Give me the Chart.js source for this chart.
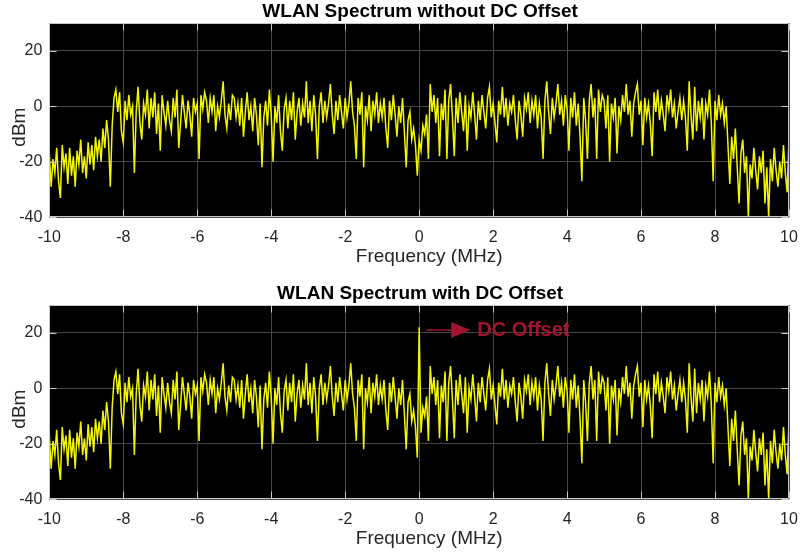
<!DOCTYPE html>
<html><head><meta charset="utf-8">
<script src="https://cdn.jsdelivr.net/npm/chart.js@4.4.1/dist/chart.umd.min.js"></script>
<style>
html,body{margin:0;padding:0;background:#fff;width:800px;height:554px;overflow:hidden;}
.wrap{position:absolute;left:0;width:800px;}
canvas{display:block;}
</style></head><body>
<div class="wrap" style="top:0"><canvas id="c1" width="800" height="270"></canvas></div>
<div class="wrap" style="top:282px"><canvas id="c2" width="800" height="270"></canvas></div>
<script>
// ---- data ----
const freqStartMHz = -10;
const freqStepMHz = 0.05;
// spectrum level (dBm), one value per 0.05 MHz bin from -10 to +10 MHz
const spectrumNoOffsetDbm = [
 -17,-29,-19,-24,-15,-27,-33,-14,-22,-17,-28,-15,-25,-18,-29,-16,-21,-12,-24,-18,
 -26,-13,-21,-14,-23,-11,-18,-12,-20,-8,-15,-5,-12,-29,-7,3,6,-2,5,-9,
 -13,2,-5,4,-3,0,-24,-2,7,-6,-12,1,-3,6,-8,3,-4,5,-10,1,
 -16,4,-2,-7,2,-5,-9,3,-4,6,-15,-6,4,-2,-8,2,-3,-11,3,-2,
 1,-19,4,-1,5,2,-6,3,-2,4,-9,0,-4,2,9,-3,-8,1,-5,4,
 3,-4,1,-7,3,-11,-2,5,-5,0,-9,3,-3,-14,1,-22,-4,2,-7,6,
 -3,-20,0,-6,4,-9,-16,-1,3,-8,2,-5,5,-12,-2,3,-7,1,-4,9,
 -6,2,-9,4,-3,-19,0,5,-6,2,-4,1,8,-3,-10,2,-5,4,-2,-8,
 3,-4,1,9,-2,-7,-19,3,-3,5,-22,0,-5,4,-9,2,-3,5,-6,1,
 -4,3,-8,-15,2,-5,4,-3,-11,0,-6,3,-9,-22,-5,-2,-12,-8,-14,-25,
 -12,-16,-7,-10,-3,-19,8,-2,4,-6,3,-18,1,-5,6,-19,2,8,-4,-18,
 3,-6,5,-2,-9,4,-16,0,-4,5,-3,-12,2,-5,4,-2,-8,3,7,-4,
 1,-6,-13,2,-3,7,-4,3,-7,1,-2,4,-5,-12,2,-3,-11,3,-1,5,
 -6,2,-3,4,-8,1,-4,-19,2,9,-2,-10,3,-4,1,8,-3,2,-7,4,
 -1,-16,3,-4,5,-7,1,-11,-27,3,-5,-19,2,8,-4,3,-19,6,-2,4,
 2,-8,4,-20,1,-4,3,-17,0,-5,4,-2,8,-3,2,-11,1,5,8,-3,
 2,-14,3,-4,1,-6,-18,5,-2,6,-5,2,-3,-9,4,-1,6,-4,1,-8,
 -2,3,-5,2,-4,-16,9,-3,-12,7,-9,2,-4,3,-12,1,-3,6,-6,-27,
 2,-5,4,-3,1,-6,0,-14,-28,-11,-19,-8,-22,-35,-17,-12,-24,-18,-40,-21,
 -26,-15,-23,-30,-18,-24,-16,-35,-22,-40,-19,-27,-15,-23,-29,-20,-26,-14,-24,-31,
 -12
];
// the DC bin in the second spectrum
const dcOffsetFreqMHz = 0;
const dcOffsetLevelDbm = 22;

const xTickValues = [-10,-8,-6,-4,-2,0,2,4,6,8,10];
const yTickValues = [-40,-20,0,20];
const chartTitles = ['WLAN Spectrum without DC Offset','WLAN Spectrum with DC Offset'];
const xAxisLabel = 'Frequency (MHz)';
const yAxisLabel = 'dBm';
const annotationText = 'DC Offset';

// ---- build series ----
const freqMHz = spectrumNoOffsetDbm.map((_, i) => Math.round((freqStartMHz + i * freqStepMHz) * 100) / 100);
const spectrumWithOffsetDbm = spectrumNoOffsetDbm.slice();
spectrumWithOffsetDbm[freqMHz.indexOf(dcOffsetFreqMHz)] = dcOffsetLevelDbm;

const FONT = '"Liberation Sans", Helvetica, Arial, sans-serif';
const TXT = '#262626';
const FRAME = '#c8c8c8';
const GRID = '#474747';
const DARKRED = '#A2142F';

const axesPlugin = {
  id: 'axesDecor',
  beforeDraw(chart) {
    const a = chart.chartArea, ctx = chart.ctx;
    ctx.save(); ctx.fillStyle = '#000';
    ctx.fillRect(a.left, a.top, a.right - a.left, a.bottom - a.top);
    ctx.restore();
  },
  afterDatasetsDraw(chart, args, opts) {
    const a = chart.chartArea, ctx = chart.ctx;
    const xs = chart.scales.x, ys = chart.scales.y;
    ctx.save();
    ctx.strokeStyle = FRAME; ctx.lineWidth = 1;
    ctx.beginPath();
    const L = Math.round(a.left) + 0.5, R = Math.round(a.right) - 0.5;
    const T = Math.round(a.top) + 0.5, B = Math.round(a.bottom) - 0.5;
    ctx.rect(L, T, R - L, B - T);
    const tl = 7;
    xTickValues.forEach(v => {
      const px = Math.round(xs.getPixelForValue(v)) + 0.5;
      ctx.moveTo(px, B); ctx.lineTo(px, B - tl);
      ctx.moveTo(px, T); ctx.lineTo(px, T + tl);
    });
    yTickValues.forEach(v => {
      const py = Math.round(ys.getPixelForValue(v)) + 0.5;
      ctx.moveTo(L, py); ctx.lineTo(L + tl, py);
      ctx.moveTo(R, py); ctx.lineTo(R - tl, py);
    });
    ctx.stroke();
    // title
    ctx.fillStyle = '#000';
    ctx.font = 'bold 19px ' + FONT;
    ctx.textAlign = 'center'; ctx.textBaseline = 'alphabetic';
    ctx.fillText(opts.title, (a.left + a.right) / 2 + 1, a.top - 6.3);
    // axis labels
    ctx.fillStyle = TXT;
    ctx.font = '19px ' + FONT;
    ctx.fillText(xAxisLabel, (a.left + a.right) / 2 + 10, a.bottom + 44.4);
    ctx.translate(25, (a.top + a.bottom) / 2 + 7);
    ctx.rotate(-Math.PI / 2);
    ctx.fillText(yAxisLabel, 0, 0);
    ctx.restore();
  }
};

const dcAnnotationPlugin = {
  id: 'dcAnnotation',
  afterDatasetsDraw(chart, args, opts) {
    if (!opts || !opts.show) return;
    const xs = chart.scales.x, ys = chart.scales.y, ctx = chart.ctx;
    const x0 = xs.getPixelForValue(0.2), x1 = xs.getPixelForValue(1.38);
    const y = ys.getPixelForValue(21);
    ctx.save();
    ctx.strokeStyle = DARKRED; ctx.fillStyle = DARKRED; ctx.lineWidth = 1.5;
    ctx.beginPath(); ctx.moveTo(x0, y); ctx.lineTo(x1 - 14, y); ctx.stroke();
    ctx.beginPath(); ctx.moveTo(x1, y); ctx.lineTo(x1 - 19, y - 8); ctx.lineTo(x1 - 19, y + 8); ctx.closePath(); ctx.fill();
    ctx.font = 'bold 20px ' + FONT;
    ctx.textBaseline = 'middle'; ctx.textAlign = 'left';
    ctx.fillText(annotationText, xs.getPixelForValue(1.57), y + 1);
    ctx.restore();
  }
};

function makeChart(id, title, values, showAnnotation) {
  const pts = values.map((v, i) => ({ x: freqMHz[i], y: v }));
  return new Chart(document.getElementById(id), {
    type: 'line',
    data: { datasets: [{ data: pts, borderColor: '#f5f500', borderWidth: 1.5, pointRadius: 0, tension: 0, fill: false }] },
    plugins: [axesPlugin, dcAnnotationPlugin],
    options: {
      responsive: false, animation: false, devicePixelRatio: 1,
      layout: { padding: { left: 0, right: 11, top: 23, bottom: 0 } },
      plugins: {
        legend: { display: false }, tooltip: { enabled: false },
        title: { display: false },
        axesDecor: { title: title },
        dcAnnotation: { show: showAnnotation }
      },
      scales: {
        x: {
          type: 'linear', min: -10, max: 10,
          afterBuildTicks: s => { s.ticks = xTickValues.map(v => ({ value: v })); },
          afterFit: s => { s.height = 52.7; s.paddingLeft = 0; s.paddingRight = 0; },
          grid: { color: GRID, drawTicks: false }, border: { display: false },
          ticks: { color: TXT, font: { family: FONT, size: 16 }, padding: 11, maxRotation: 0, autoSkip: false },
          title: { display: false }
        },
        y: {
          type: 'linear', min: -40, max: 30,
          afterBuildTicks: s => { s.ticks = yTickValues.map(v => ({ value: v })); },
          afterFit: s => { s.width = 49.3; s.paddingTop = 0; s.paddingBottom = 0; },
          grid: { color: GRID, drawTicks: false }, border: { display: false },
          ticks: { color: TXT, font: { family: FONT, size: 16 }, padding: 7 },
          title: { display: false }
        }
      }
    }
  });
}
makeChart('c1', chartTitles[0], spectrumNoOffsetDbm, false);
makeChart('c2', chartTitles[1], spectrumWithOffsetDbm, true);
</script>
</body></html>
